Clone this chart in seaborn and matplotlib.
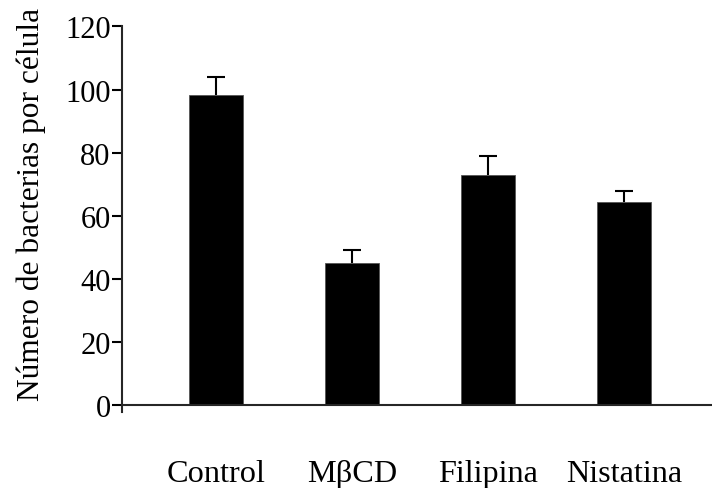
import matplotlib
matplotlib.use("Agg")
import matplotlib.pyplot as plt
import seaborn as sns

# Values
categories = ["Control", "MβCD", "Filipina", "Nistatina"]
means = [98.2, 45.1, 73.0, 64.3]
errors = [5.7, 4.1, 6.0, 3.6]

sns.set_style("ticks")
plt.rcParams["font.family"] = ["Liberation Serif", "DejaVu Serif"]
plt.rcParams["text.color"] = "black"
plt.rcParams["axes.labelcolor"] = "black"
plt.rcParams["xtick.color"] = "black"
plt.rcParams["ytick.color"] = "black"

fig = plt.figure(figsize=(7.12, 4.89), dpi=100)
ax = fig.add_axes([0.171, 0.155, 0.829, 0.789])

sns.barplot(x=categories, y=means, color="black", width=0.39,
            saturation=1, errorbar=None, ax=ax)
for p in ax.patches:
    p.set_edgecolor("#555555")
    p.set_linewidth(0.6)

# upper-only error bars
eb = ax.errorbar(range(len(categories)), means, yerr=[[0] * len(errors), errors],
                 fmt="none", ecolor="black", elinewidth=1.5, capsize=6.3, capthick=1.5)
eb[1][0].set_visible(False)

ax.set_ylim(-2.2, 120)
ax.set_xlim(-0.693, 3.647)
ax.set_yticks(range(0, 121, 20))
ax.spines["bottom"].set_position(("data", 0))
ax.spines["bottom"].set_linewidth(1.5)
ax.spines["left"].set_linewidth(1.5)
ax.spines["left"].set_bounds(-2.2, 120)
sns.despine(ax=ax, top=True, right=True)

ax.tick_params(axis="y", length=7, width=1.5, labelsize=22, pad=1)
ax.tick_params(axis="x", length=0, labelsize=23.2, pad=39)
ax.set_ylabel("Número de bacterias por célula", fontsize=22.6)
ax.yaxis.set_label_coords(-0.128, 0.54)

fig.savefig("out.png", dpi=100)
